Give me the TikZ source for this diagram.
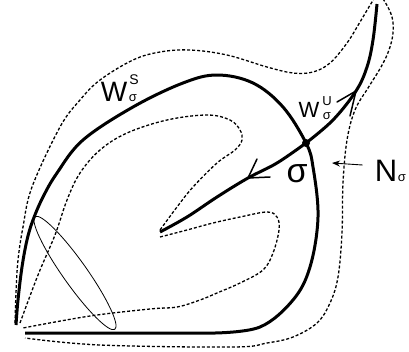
\documentclass[tikz,border=0pt]{standalone}
\usepackage{fontspec}
\setmainfont{Liberation Sans}
\usetikzlibrary{arrows.meta}

\tikzset{
  manifold/.style={line width=3pt, line join=round},
  nbhd/.style={line width=1.3pt, dash pattern=on 3pt off 2pt},
  barb/.style={line width=1.5pt, line join=miter, line cap=round},
  scrtxt/.style={inner sep=0pt, font=\fontsize{13}{13}\selectfont},
}

\begin{document}
\begin{tikzpicture}[x=1pt,y=-1pt]
\useasboundingbox (0,0) rectangle (409,351);

% outer neighbourhood
\draw[nbhd] plot[smooth, tension=0.6] coordinates {(15,323) (16,293) (18,260) (23,227) (32,187) (60,127) (80,100) (100,80) (133,60) (160,52) (190,50) (227,55) (267,67) (293,73) (313,72) (330,63) (347,43) (360,22) (372,2) (378,-6) (385,2) (392,17) (393,33) (389,50) (381,67) (368,88) (355,110) (347,140) (343,183) (342,233) (338,277) (330,303) (317,323) (293,337) (267,343) (233,347) (100,345) (25,338)};

% inner neighbourhood
\draw[nbhd] plot[smooth, tension=0.6] coordinates {(20,323) (38,275) (55,235) (67,200) (80,173) (100,150) (127,133) (167,120) (207,115) (230,120) (240,130) (242,140) (235,150) (217,163) (193,187) (177,207) (160,230)};
\draw[nbhd] plot[smooth, tension=0.6] coordinates {(160,237) (187,230) (213,223) (240,217) (267,212) (277,217) (279,230) (273,253) (263,270) (240,283) (217,293) (200,300) (177,307) (150,309) (90,316) (23,328)};

% section
\draw[line width=0.8pt, rotate around={-54.7:(75,273)}] (75,273) ellipse [x radius=69pt, y radius=12pt];

% stable manifold
\draw[manifold] (25,333) -- (215,333) -- plot[smooth, tension=0.6] coordinates {(215,333) (260,327) (293,300) (310,267) (318,217) (313,167) (306,143) (283,107) (253,83) (217,75) (183,83) (133,107) (83,140) (57,173) (43,197) (33,220) (27,240) (22,267) (18,300) (16,325)};

% saddle
\node[circle, fill=black, inner sep=0pt, minimum size=8pt] (sigma) at (306,143) {};

% unstable manifold
\draw[manifold] (sigma.center) plot[smooth, tension=0.6] coordinates {(306,143) (333,120) (356,91) (367,67) (373,40) (377,4)};
\draw[manifold] (sigma.center) plot[smooth, tension=0.6] coordinates {(306,143) (277,163) (248,178) (217,197) (187,217) (160,232)};

% flow directions
\coordinate (uptip) at (356,91);
\coordinate (upbarbA) at (337,102);
\coordinate (upbarbB) at (350,116);
\draw[barb] (upbarbA) -- (uptip) -- (upbarbB);
\coordinate (lowtip) at (248,178);
\coordinate (lowbarbA) at (257,159);
\coordinate (lowbarbB) at (270,177);
\draw[barb] (lowbarbA) -- (lowtip) -- (lowbarbB);

% labels
\node[inner sep=0pt, font=\fontsize{28}{28}\selectfont] (ws) at (114,92) {W};
\node[scrtxt, font=\fontsize{14}{14}\selectfont] (wsS) at (134,80) {S};
\node[scrtxt] (wss) at (133,98) {σ};
\node[inner sep=0pt, font=\fontsize{22}{22}\selectfont] (wu) at (309,110) {W};
\node[scrtxt] (wuU) at (327,101) {U};
\node[scrtxt] (wus) at (327,116) {σ};
\node[inner sep=0pt, font=\fontsize{34}{34}\selectfont] (sig) at (297,174) {σ};
\node[inner sep=0pt, font=\fontsize{31}{31}\selectfont] (N) at (386,171) {N};
\node[inner sep=0pt, font=\fontsize{13}{13}\selectfont] (Ns) at (402,178) {σ};

\coordinate (Ntip) at (332,163);
\draw[line width=0.9pt, -{Stealth[length=8pt,width=6pt]}] ([xshift=-12pt,yshift=6pt]N.west) -- (Ntip);
\end{tikzpicture}
\end{document}
